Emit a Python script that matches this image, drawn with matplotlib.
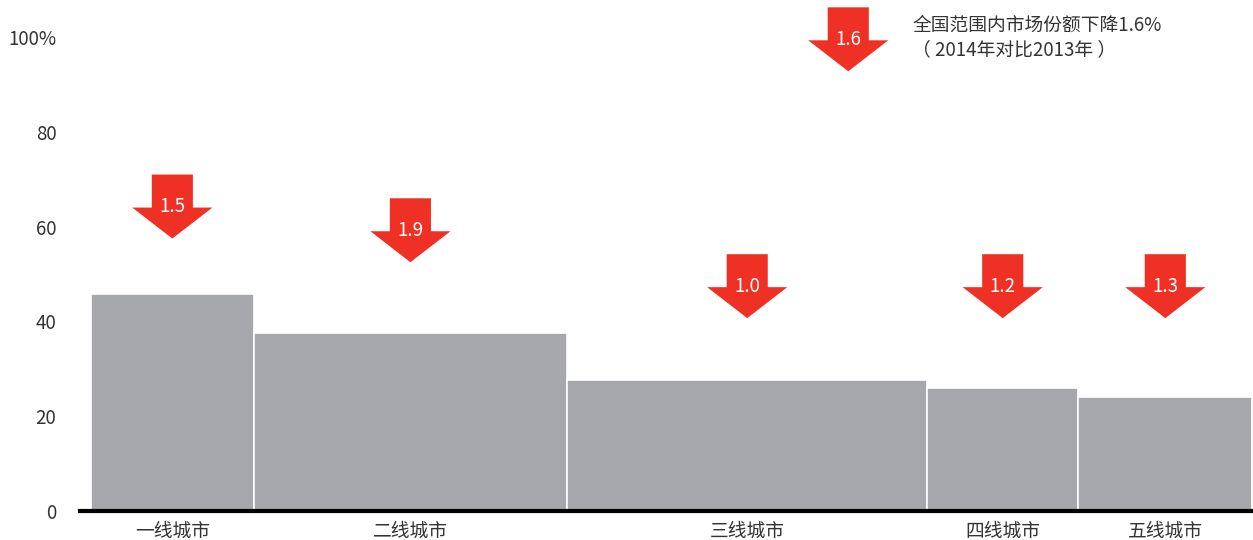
import matplotlib
matplotlib.use("Agg")
import matplotlib.pyplot as plt
import numpy as np
from matplotlib.patches import Polygon

plt.rcParams["font.family"] = ["Noto Sans CJK SC", "DejaVu Sans"]

# city tiers: bar width = share of stores, bar height = market share (%)
tiers = ["一线城市", "二线城市", "三线城市", "四线城市", "五线城市"]
widths = [14, 27, 31, 13, 15]
shares = [45.8, 37.6, 27.6, 25.9, 24.0]
declines = [1.5, 1.9, 1.0, 1.2, 1.3]
national_decline = 1.6

ytick_values = [0, 20, 40, 60, 80, 100]
ytick_labels = ["0", "20", "40", "60", "80", "100%"]

# where the arrow tops sit (y units)
arrow_tops = [71, 66, 54.2, 54.2, 54.2]
national_arrow = (65.2, 106.3)

BAR_COLOR = "#a7a8ab"
RED = "#ee3124"
TEXT = "#333333"

W, H = 1253, 540
fig = plt.figure(figsize=(W / 100, H / 100), dpi=100)
ax = fig.add_axes([80 / W, 29 / H, 1 - 80 / W, 507 / H])

lefts = np.concatenate([[0], np.cumsum(widths)[:-1]])
centers = lefts + np.array(widths) / 2
ax.bar(lefts, shares, width=widths, align="edge", color=BAR_COLOR,
       edgecolor="white", linewidth=1.2, zorder=2)

ax.set_xlim(-0.95, 100.05)
ax.set_ylim(0, 107)


def down_arrow(cx, top, label):
    sw, hw = 1.77, 3.45
    sh, total = 6.96, 13.5
    pts = [(cx - sw, top), (cx + sw, top), (cx + sw, top - sh), (cx + hw, top - sh),
           (cx, top - total), (cx - hw, top - sh), (cx - sw, top - sh)]
    ax.add_patch(Polygon(pts, closed=True, facecolor=RED, edgecolor="none",
                         zorder=3, clip_on=False))
    ax.text(cx, top - sh + 0.2, label, ha="center", va="center", color="white",
            fontsize=13.5, zorder=4)


for cx, top, d in zip(centers, arrow_tops, declines):
    down_arrow(cx, top, f"{d:.1f}")

nx, ny = national_arrow
down_arrow(nx, ny, f"{national_decline:.1f}")
ax.text(nx + 5.5, ny - 3.8, f"全国范围内市场份额下降{national_decline:.1f}%",
        ha="left", va="center", color=TEXT, fontsize=13.5)
ax.text(nx + 5.5, ny - 8.9, "（ 2014年对比2013年 ）",
        ha="left", va="center", color=TEXT, fontsize=13.5)

ax.set_yticks(ytick_values)
ax.set_yticklabels(ytick_labels, fontsize=13.5, color=TEXT)
ax.tick_params(axis="y", length=0, pad=17)
ax.set_xticks(centers)
ax.set_xticklabels(tiers, fontsize=13.5, color=TEXT)
ax.tick_params(axis="x", length=0, pad=7)

for side in ["top", "right", "left"]:
    ax.spines[side].set_visible(False)
ax.spines["bottom"].set_linewidth(3)
ax.spines["bottom"].set_color("black")
ax.spines["bottom"].set_zorder(5)

fig.savefig("out.png", dpi=100)
